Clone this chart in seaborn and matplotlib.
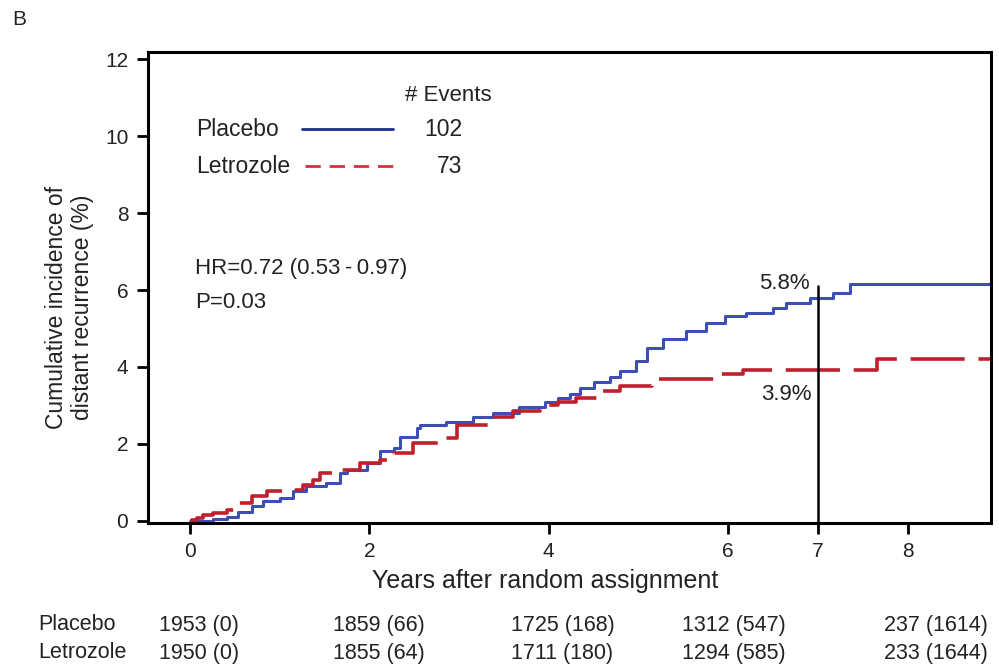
import numpy as np
import pandas as pd
import matplotlib
matplotlib.use("Agg")
import matplotlib.pyplot as plt
from matplotlib.lines import Line2D
import seaborn as sns

# ---------------- data ----------------
placebo_t = [0, 0.11, 0.26, 0.41, 0.54, 0.69, 0.82, 1.0, 1.15, 1.3, 1.52, 1.67, 1.75, 1.97,
             2.12, 2.27, 2.34, 2.53, 2.57, 2.86, 3.16, 3.38, 3.67, 3.96, 4.1, 4.24, 4.35, 4.5,
             4.68, 4.79, 4.97, 5.09, 5.27, 5.53, 5.75, 5.97, 6.2, 6.5, 6.65, 6.91, 7.17, 7.36, 8.93]
placebo_v = [0, 0.0, 0.05, 0.1, 0.23, 0.37, 0.52, 0.58, 0.76, 0.89, 0.97, 1.24, 1.33, 1.5,
             1.8, 1.89, 2.19, 2.41, 2.5, 2.58, 2.71, 2.8, 2.95, 3.1, 3.19, 3.3, 3.45, 3.6,
             3.73, 3.9, 4.15, 4.5, 4.72, 4.93, 5.15, 5.33, 5.41, 5.54, 5.67, 5.8, 5.93, 6.17, 6.17]
letrozole_t = [0, 0.02, 0.08, 0.15, 0.26, 0.41, 0.54, 0.69, 0.86, 1.13, 1.26, 1.37, 1.45, 1.69,
               1.9, 2.12, 2.27, 2.49, 2.84, 2.98, 3.38, 3.6, 3.9, 4.1, 4.3, 4.57, 4.79, 5.15,
               5.9, 6.17, 7.66, 8.93]
letrozole_v = [0, 0.02, 0.06, 0.15, 0.19, 0.28, 0.45, 0.63, 0.76, 0.8, 0.93, 1.06, 1.24, 1.33,
               1.5, 1.59, 1.76, 2.02, 2.15, 2.5, 2.71, 2.85, 3.0, 3.1, 3.19, 3.37, 3.5, 3.68,
               3.81, 3.92, 4.2, 4.2]

arms = ["Placebo", "Letrozole"]
events = ["102", "73"]
marker_year = 7
marker_top = 6.1
placebo_at7 = "5.8%"
letrozole_at7 = "3.9%"
hr_text = "HR=0.72 (0.53\u2009-\u20090.97)"
p_text = "P=0.03"
x_ticks = [0, 2, 4, 6, 7, 8]
y_ticks = [0, 2, 4, 6, 8, 10, 12]
risk_placebo = ["1953 (0)", "1859 (66)", "1725 (168)", "1312 (547)", "237 (1614)"]
risk_letrozole = ["1950 (0)", "1855 (64)", "1711 (180)", "1294 (585)", "233 (1644)"]

# ---------------- style ----------------
sns.set_theme(style="white")
plt.rcParams["font.family"] = ["Liberation Sans", "DejaVu Sans"]

blue = "#3d4fb4"
red = "#c0202c"
blue_leg = "#1f2b8e"
red_leg = "#d62f3a"
txt = "#222222"

fig = plt.figure(figsize=(9.99, 6.66), dpi=100)
ax = fig.add_axes([147.7 / 999, 1 - 523 / 666, (991 - 147.7) / 999, (523 - 51.7) / 666])

df = pd.concat([
    pd.DataFrame({"t": placebo_t, "v": placebo_v, "arm": "Placebo"}),
    pd.DataFrame({"t": letrozole_t, "v": letrozole_v, "arm": "Letrozole"}),
], ignore_index=True)

sns.lineplot(data=df, x="t", y="v", hue="arm", style="arm",
             palette={"Placebo": blue, "Letrozole": red},
             dashes={"Placebo": "", "Letrozole": (15, 3.8)},
             estimator=None, drawstyle="steps-post", legend=False, ax=ax)
for ln in ax.lines:
    if matplotlib.colors.to_hex(ln.get_color()) == red:
        ln.set_linewidth(2.6)
    else:
        ln.set_linewidth(2.2)

ax.set_xlim(-0.47, 8.93)
ax.set_ylim(-0.06, 12.2)
ax.set_xticks(x_ticks)
ax.set_yticks(y_ticks)
ax.set_xticklabels([str(v) for v in x_ticks])
ax.set_yticklabels([str(v) for v in y_ticks])
ax.tick_params(axis="both", which="major", direction="out", length=8, width=2,
               labelsize=15, color="black", labelcolor=txt, pad=6,
               bottom=True, left=True, top=False, right=False)
ax.set_xlabel("")
ax.set_ylabel("")
for s in ax.spines.values():
    s.set_visible(True)
    s.set_color("black")
    s.set_linewidth(2.2)

# vertical marker at year 7
ax.plot([marker_year, marker_year], [-0.06, marker_top], color="black", lw=1.8)
ax.text(6.91, 6.17, placebo_at7, ha="right", va="center", fontsize=16, color=txt)
ax.text(6.93, 3.27, letrozole_at7, ha="right", va="center", fontsize=16, color=txt)

# HR / P text
ax.text(0.055, 6.55, hr_text, ha="left", va="center", fontsize=16, color=txt)
ax.text(0.055, 5.67, p_text, ha="left", va="center", fontsize=16, color=txt)

# custom legend
ax.text(3.36, 11.05, "# Events", ha="right", va="center", fontsize=16, color=txt)
ax.text(0.075, 10.18, arms[0], ha="left", va="center", fontsize=16.5, color=txt)
ax.text(0.075, 9.22, arms[1], ha="left", va="center", fontsize=16.5, color=txt)
ax.text(3.04, 10.18, events[0], ha="right", va="center", fontsize=16.5, color=txt)
ax.text(3.04, 9.22, events[1], ha="right", va="center", fontsize=16.5, color=txt)
ax.add_line(Line2D([1.245, 2.26], [10.2, 10.2], color=blue_leg, lw=2.0))
ax.add_line(Line2D([1.28, 2.29], [9.22, 9.22], color=red_leg, lw=2.0, dashes=(5.5, 3.2)))

# axis labels
fig.text(69.5 / 999, 1 - 307 / 666, "Cumulative incidence of\ndistant recurrence (%)",
         rotation=90, ha="center", va="center", multialignment="center",
         fontsize=16.5, color=txt, linespacing=1.15)
fig.text(545 / 999, 1 - 581 / 666, "Years after random assignment",
         ha="center", va="center", fontsize=18, color=txt)

# panel letter
fig.text(12 / 999, 1 - 19.5 / 666, "B", ha="left", va="center", fontsize=15, color=txt)

# risk table
col_x = [199, 378.5, 562.5, 734, 935.5]
row_y = [625, 653]
for row, (name, vals) in enumerate(zip(arms, [risk_placebo, risk_letrozole])):
    y = 1 - row_y[row] / 666
    fig.text(38 / 999, y, name, ha="left", va="center", color=txt, fontsize=15.5)
    for cx, v in zip(col_x, vals):
        fig.text(cx / 999, y, v, ha="center", va="center", color=txt, fontsize=15.5)

fig.savefig("out.png", dpi=100, facecolor="white")
